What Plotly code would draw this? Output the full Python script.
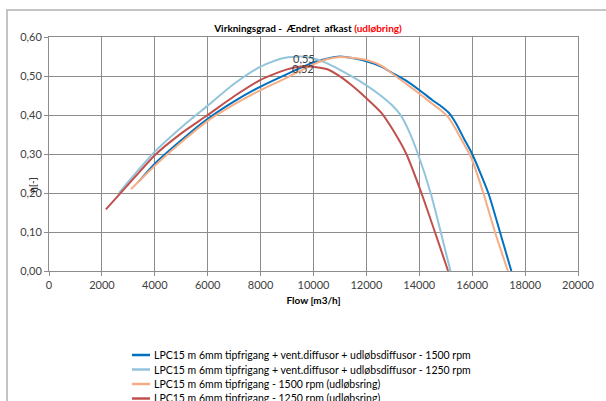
import plotly.graph_objects as go

# ---- data ----
names = [
    "LPC15 m 6mm tipfrigang + vent.diffusor + udløbsdiffusor - 1500 rpm",
    "LPC15 m 6mm tipfrigang + vent.diffusor + udløbsdiffusor - 1250 rpm",
    "LPC15 m 6mm tipfrigang - 1500 rpm (udløbsring)",
    "LPC15 m 6mm tipfrigang - 1250 rpm (udløbsring)",
]
colors = ["#0070C0", "#92C5DB", "#F7AD84", "#C0504D"]

flow_1500_diff = [3400, 4000, 5000, 6000, 7000, 8000, 9000, 10000, 11000, 12000,
                  12600, 13000, 13500, 14000, 14500, 14850, 15150, 15400, 15700, 16000, 16610, 17050, 17480]
eta_1500_diff = [0.23, 0.275, 0.335, 0.39, 0.435, 0.473, 0.505, 0.535, 0.55, 0.538,
                 0.523, 0.507, 0.488, 0.464, 0.438, 0.421, 0.403, 0.377, 0.338, 0.30, 0.20, 0.10, 0.0]

flow_1250_diff = [2650, 3000, 4000, 5000, 6000, 7000, 8000, 8800, 9500, 10000, 10500, 11000,
                  11500, 12000, 12500, 13000, 13300, 13600, 13950, 14430, 14810, 15180]
eta_1250_diff = [0.20, 0.229, 0.306, 0.368, 0.424, 0.48, 0.524, 0.545, 0.55, 0.545, 0.533, 0.516,
                 0.497, 0.476, 0.452, 0.423, 0.399, 0.36, 0.30, 0.20, 0.10, 0.0]

flow_1500_ring = [3100, 4000, 5000, 6000, 7000, 8000, 9000, 10000, 10500, 11000, 12000,
                  12600, 13000, 13500, 14000, 14500, 14800, 15100, 15350, 15650, 15950, 16420, 16860, 17350]
eta_1500_ring = [0.21, 0.27, 0.33, 0.385, 0.427, 0.464, 0.496, 0.53, 0.543, 0.549, 0.541,
                 0.525, 0.505, 0.48, 0.455, 0.428, 0.413, 0.394, 0.367, 0.33, 0.293, 0.20, 0.10, 0.0]

flow_1250_ring = [2150, 3000, 4000, 5000, 6000, 7000, 8000, 9000, 9700, 10500, 11000, 11500,
                  12000, 12560, 13000, 13510, 14080, 14590, 15090]
eta_1250_ring = [0.158, 0.222, 0.297, 0.353, 0.40, 0.448, 0.49, 0.517, 0.525, 0.518, 0.499, 0.473,
                 0.443, 0.406, 0.362, 0.30, 0.20, 0.10, 0.0]

peak_labels = ["0,55", "0,52"]
peak_x = [9640, 9590]
peak_y = [0.546, 0.518]

series = [
    (flow_1500_diff, eta_1500_diff),
    (flow_1250_diff, eta_1250_diff),
    (flow_1500_ring, eta_1500_ring),
    (flow_1250_ring, eta_1250_ring),
]

FONT = "Lato"
GRID = "#8C8C8C"

fig = go.Figure()
for (xs, ys), name, col in zip(series, names, colors):
    fig.add_trace(go.Scatter(x=xs, y=ys, name=name, mode="lines",
                             line=dict(color=col, width=2, shape="spline", smoothing=0.6),
                             showlegend=False))

# geometry helpers (pixel -> paper)
W, H = 606, 401
ML, MR, MT, MB = 49, 28, 37, 130
PW, PH = W - ML - MR, H - MT - MB


def px(xp):
    return (xp - ML) / PW


def py(yp):
    return (H - MB - yp) / PH


annotations = []
shapes = []

# peak data labels
for t, xv, yv in zip(peak_labels, peak_x, peak_y):
    annotations.append(dict(x=xv, y=yv, xref="x", yref="y", text=t, showarrow=False,
                            font=dict(family=FONT, size=11, color="#404040")))

# y-axis title
annotations.append(dict(x=px(24), y=py(185), xref="paper", yref="paper", text="η[-]",
                        textangle=-90, showarrow=False,
                        font=dict(family=FONT, size=10, color="#000000")))

# legend (manual, compact spacing)
leg_y = [355, 369.5, 384, 398.5]
for name, col, ly in zip(names, colors, leg_y):
    shapes.append(dict(type="line", xref="paper", yref="paper", x0=px(132), x1=px(150),
                       y0=py(ly), y1=py(ly), line=dict(color=col, width=2.5)))
    annotations.append(dict(x=px(152), y=py(ly), xref="paper", yref="paper", text=name,
                            xanchor="left", yanchor="middle", showarrow=False,
                            font=dict(family=FONT, size=10.5, color="#000000")))

# outer chart border
shapes.append(dict(type="rect", xref="paper", yref="paper", x0=px(7), x1=px(640),
                   y0=py(440), y1=py(10), line=dict(color="#C4C4C4", width=2)))

fig.update_layout(
    width=W, height=H,
    margin=dict(l=ML, r=MR, t=MT, b=MB),
    paper_bgcolor="white", plot_bgcolor="white",
    separators=",.",
    font=dict(family=FONT, size=11, color="#404040"),
    title=dict(text="<b>Virkningsgrad -  Ændret  afkast <span style='color:#FF0000'>(udløbring)</span></b>",
               x=308 / W, xanchor="center", y=1 - 28 / H, yanchor="middle",
               font=dict(family=FONT, size=10, color="#000000")),
    annotations=annotations,
    shapes=shapes,
    showlegend=False,
)
fig.update_xaxes(range=[0, 20000], dtick=2000, tickformat="d", showgrid=True, gridcolor=GRID,
                 gridwidth=1, showline=True, mirror=True, linecolor=GRID, linewidth=1,
                 ticks="outside", ticklen=4, tickcolor=GRID, zeroline=False,
                 tickfont=dict(family=FONT, size=11, color="#404040"),
                 title=dict(text="<b>Flow [m3/h]</b>", standoff=6,
                            font=dict(family=FONT, size=10, color="#000000")))
fig.update_yaxes(range=[0, 0.6], dtick=0.1, tickformat=".2f", showgrid=True, gridcolor=GRID,
                 gridwidth=1, showline=True, mirror=True, linecolor=GRID, linewidth=1,
                 ticks="outside", ticklen=4, tickcolor=GRID, zeroline=False,
                 tickfont=dict(family=FONT, size=11, color="#404040"))

fig.write_html("out.html")
